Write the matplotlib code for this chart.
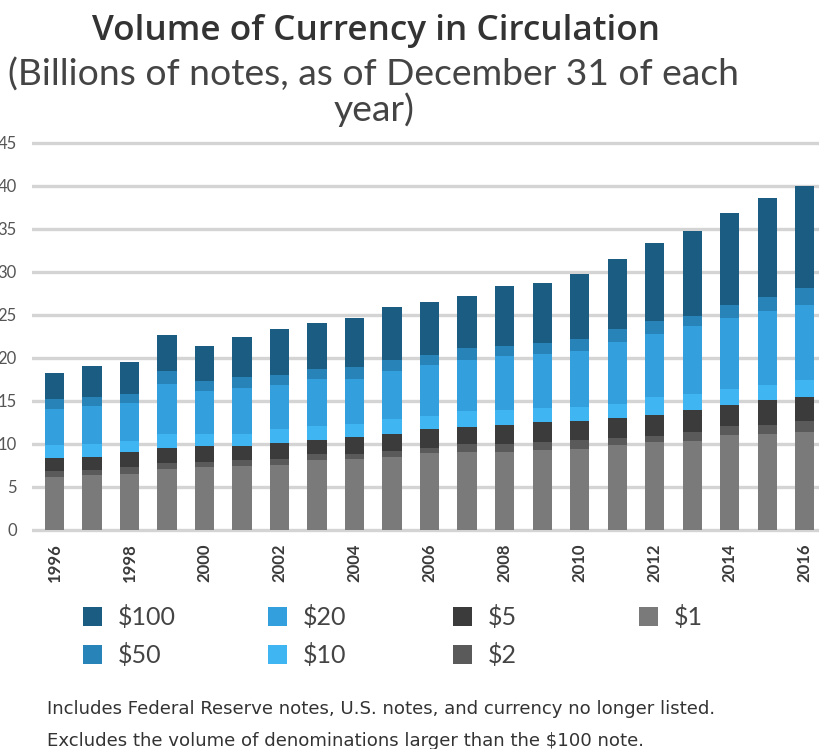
import matplotlib
matplotlib.use("Agg")
import matplotlib.pyplot as plt
from matplotlib.patches import Patch

# values (billions of notes)
years = list(range(1996, 2017))
d1 = [6.2, 6.4, 6.5, 7.1, 7.3, 7.4, 7.6, 8.1, 8.2, 8.5, 8.9, 9.1, 9.1, 9.3, 9.4, 9.9, 10.2, 10.4, 11.0, 11.2, 11.4]
d2 = [0.7, 0.6, 0.8, 0.7, 0.6, 0.7, 0.6, 0.7, 0.6, 0.7, 0.6, 0.9, 0.9, 0.9, 1.1, 0.8, 0.7, 1.0, 1.1, 1.0, 1.3]
d5 = [1.5, 1.5, 1.8, 1.7, 1.9, 1.7, 1.9, 1.7, 2.0, 2.0, 2.2, 2.0, 2.2, 2.3, 2.2, 2.3, 2.5, 2.6, 2.4, 2.9, 2.7]
d10 = [1.5, 1.5, 1.2, 1.7, 1.4, 1.4, 1.6, 1.6, 1.5, 1.7, 1.5, 1.8, 1.8, 1.7, 1.6, 1.6, 2.0, 1.8, 1.9, 1.8, 2.0]
d20 = [4.2, 4.4, 4.4, 5.8, 5.0, 5.3, 5.1, 5.4, 5.3, 5.6, 6.0, 6.0, 6.2, 6.3, 6.5, 7.2, 7.4, 7.9, 8.2, 8.5, 8.8]
d50 = [1.1, 1.1, 1.1, 1.5, 1.1, 1.3, 1.2, 1.2, 1.3, 1.3, 1.1, 1.3, 1.2, 1.2, 1.4, 1.5, 1.5, 1.2, 1.5, 1.7, 1.9]
d100 = [3.0, 3.5, 3.7, 4.2, 4.1, 4.6, 5.3, 5.4, 5.7, 6.1, 6.2, 6.1, 7.0, 7.0, 7.6, 8.2, 9.0, 9.9, 10.7, 11.5, 11.9]

# bottom to top stacking order
series = [("$1", d1), ("$2", d2), ("$5", d5), ("$10", d10),
          ("$20", d20), ("$50", d50), ("$100", d100)]
colors = {"$1": "#7a7a7a", "$2": "#5a5a5a", "$5": "#3b3b3b", "$10": "#3fb6f2",
          "$20": "#33a0dd", "$50": "#2884b8", "$100": "#1b5c83"}

# legend columns, as in the reference
legend_cols = [["$100", "$50"], ["$20", "$10"], ["$5", "$2"], ["$1"]]

plt.rcParams['font.family'] = ['Lato', 'DejaVu Sans']

fig = plt.figure(figsize=(8.2, 7.49), dpi=100)
ax = fig.add_axes([0.039, 0.2878, 0.961, 0.5262])

x = list(range(len(years)))
bottom = [0.0] * len(years)
for name, vals in series:
    ax.bar(x, vals, width=0.51, bottom=bottom, color=colors[name], label=name, zorder=3)
    bottom = [b + v for b, v in zip(bottom, vals)]

ax.set_xlim(-0.6, 20.41)
ax.set_ylim(-0.4, 45.4)
ax.set_yticks(range(0, 46, 5))
ax.set_xticks(x[::2])
ax.set_xticklabels([str(y) for y in years[::2]], rotation=90, fontsize=12,
                   fontweight='bold', color='#3a3a3a')
ax.tick_params(axis='x', length=0, pad=7)
ax.tick_params(axis='y', length=0, pad=11, labelsize=12, labelcolor='#555555')
ax.yaxis.grid(True, color='#d4d4d4', linewidth=2.4)
ax.set_axisbelow(True)
for s in ax.spines.values():
    s.set_visible(False)

# legend, one column at a time
handles = {name: Patch(facecolor=colors[name]) for name, _ in series}
col_x = [83, 268, 453, 639]
for cx, names in zip(col_x, legend_cols):
    leg = fig.legend([handles[n] for n in names], names, loc='upper left',
                     bbox_to_anchor=(cx / 820, 1 - 605 / 749), frameon=False,
                     fontsize=18, handlelength=0.76, handleheight=0.76,
                     handletextpad=0.64, labelspacing=0.56, borderpad=0,
                     borderaxespad=0, labelcolor='#444444')

fig.text(376 / 820, 1 - 31 / 749, "Volume of Currency in Circulation",
         ha='center', va='center', fontsize=25.3, fontweight='semibold', color='#333333',
         family=['Open Sans', 'DejaVu Sans'])
fig.text(374 / 820, 1 - 92 / 749, "(Billions of notes, as of December 31 of each\nyear)",
         ha='center', va='center', fontsize=26.8, color='#444444', linespacing=1.02)

fig.text(47 / 820, 1 - 709 / 749,
         "Includes Federal Reserve notes, U.S. notes, and currency no longer listed.",
         ha='left', va='center', fontsize=13.1, color='#333333', family=['DejaVu Sans'])
fig.text(47 / 820, 1 - 741 / 749,
         "Excludes the volume of denominations larger than the $100 note.",
         ha='left', va='center', fontsize=13.1, color='#333333', family=['DejaVu Sans'])

fig.savefig("out.png", dpi=100)
